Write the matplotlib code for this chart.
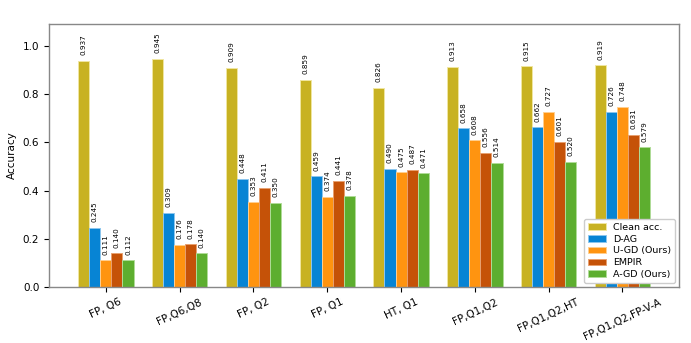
import numpy as np
import matplotlib.pyplot as plt

groups = ["FP, Q6", "FP,Q6,Q8", "FP, Q2", "FP, Q1", "HT, Q1",
          "FP,Q1,Q2", "FP,Q1,Q2,HT", "FP,Q1,Q2,FP-V-A"]
series_names = ["Clean acc.", "D-AG", "U-GD (Ours)", "EMPIR", "A-GD (Ours)"]
clean = [0.937, 0.945, 0.909, 0.859, 0.826, 0.913, 0.915, 0.919]
d_ag = [0.245, 0.309, 0.448, 0.459, 0.490, 0.658, 0.662, 0.726]
u_gd = [0.111, 0.176, 0.353, 0.374, 0.475, 0.608, 0.727, 0.748]
empir = [0.140, 0.178, 0.411, 0.441, 0.487, 0.556, 0.601, 0.631]
a_gd = [0.112, 0.140, 0.350, 0.378, 0.471, 0.514, 0.520, 0.579]

colors = ["#c8b222", "#0784d4", "#ff9410", "#c55208", "#5dae2f"]
edges = ["#f0e6a0", "#8cc6ee", "#ffcf90", "#e8a070", "#b0dc98"]

fig, ax = plt.subplots(figsize=(6.91, 3.43), dpi=100)
fig.subplots_adjust(left=0.071, right=0.983, top=0.93, bottom=0.163)

x = np.arange(len(groups))
w = 0.15
all_series = [clean, d_ag, u_gd, empir, a_gd]
for i, vals in enumerate(all_series):
    pos = x + (i - 2) * w
    bars = ax.bar(pos, vals, w, color=colors[i], edgecolor=edges[i],
                  linewidth=0.7, label=series_names[i])
    for b, v in zip(bars, vals):
        ax.annotate(f"{v:.3f}", (b.get_x() + b.get_width() / 2, v),
                    xytext=(0, 4), textcoords="offset points",
                    rotation=90, ha="center", va="bottom", fontsize=5.2)

ax.set_xlim(-0.77, len(groups) - 1 + 0.77)
ax.set_ylim(0, 1.09)
ax.set_xticks(x)
ax.set_xticklabels(groups, rotation=25, fontsize=7.5)
ax.set_yticks([0.0, 0.2, 0.4, 0.6, 0.8, 1.0])
ax.tick_params(axis="y", labelsize=7.5)
ax.set_ylabel("Accuracy", fontsize=7.5)
for s in ax.spines.values():
    s.set_color("#888888")
    s.set_linewidth(1.0)

ax.legend(loc="lower right", fontsize=6.8, borderaxespad=0.45,
          handlelength=1.9, labelspacing=0.3, framealpha=1.0)

plt.savefig("out.png", dpi=100)
